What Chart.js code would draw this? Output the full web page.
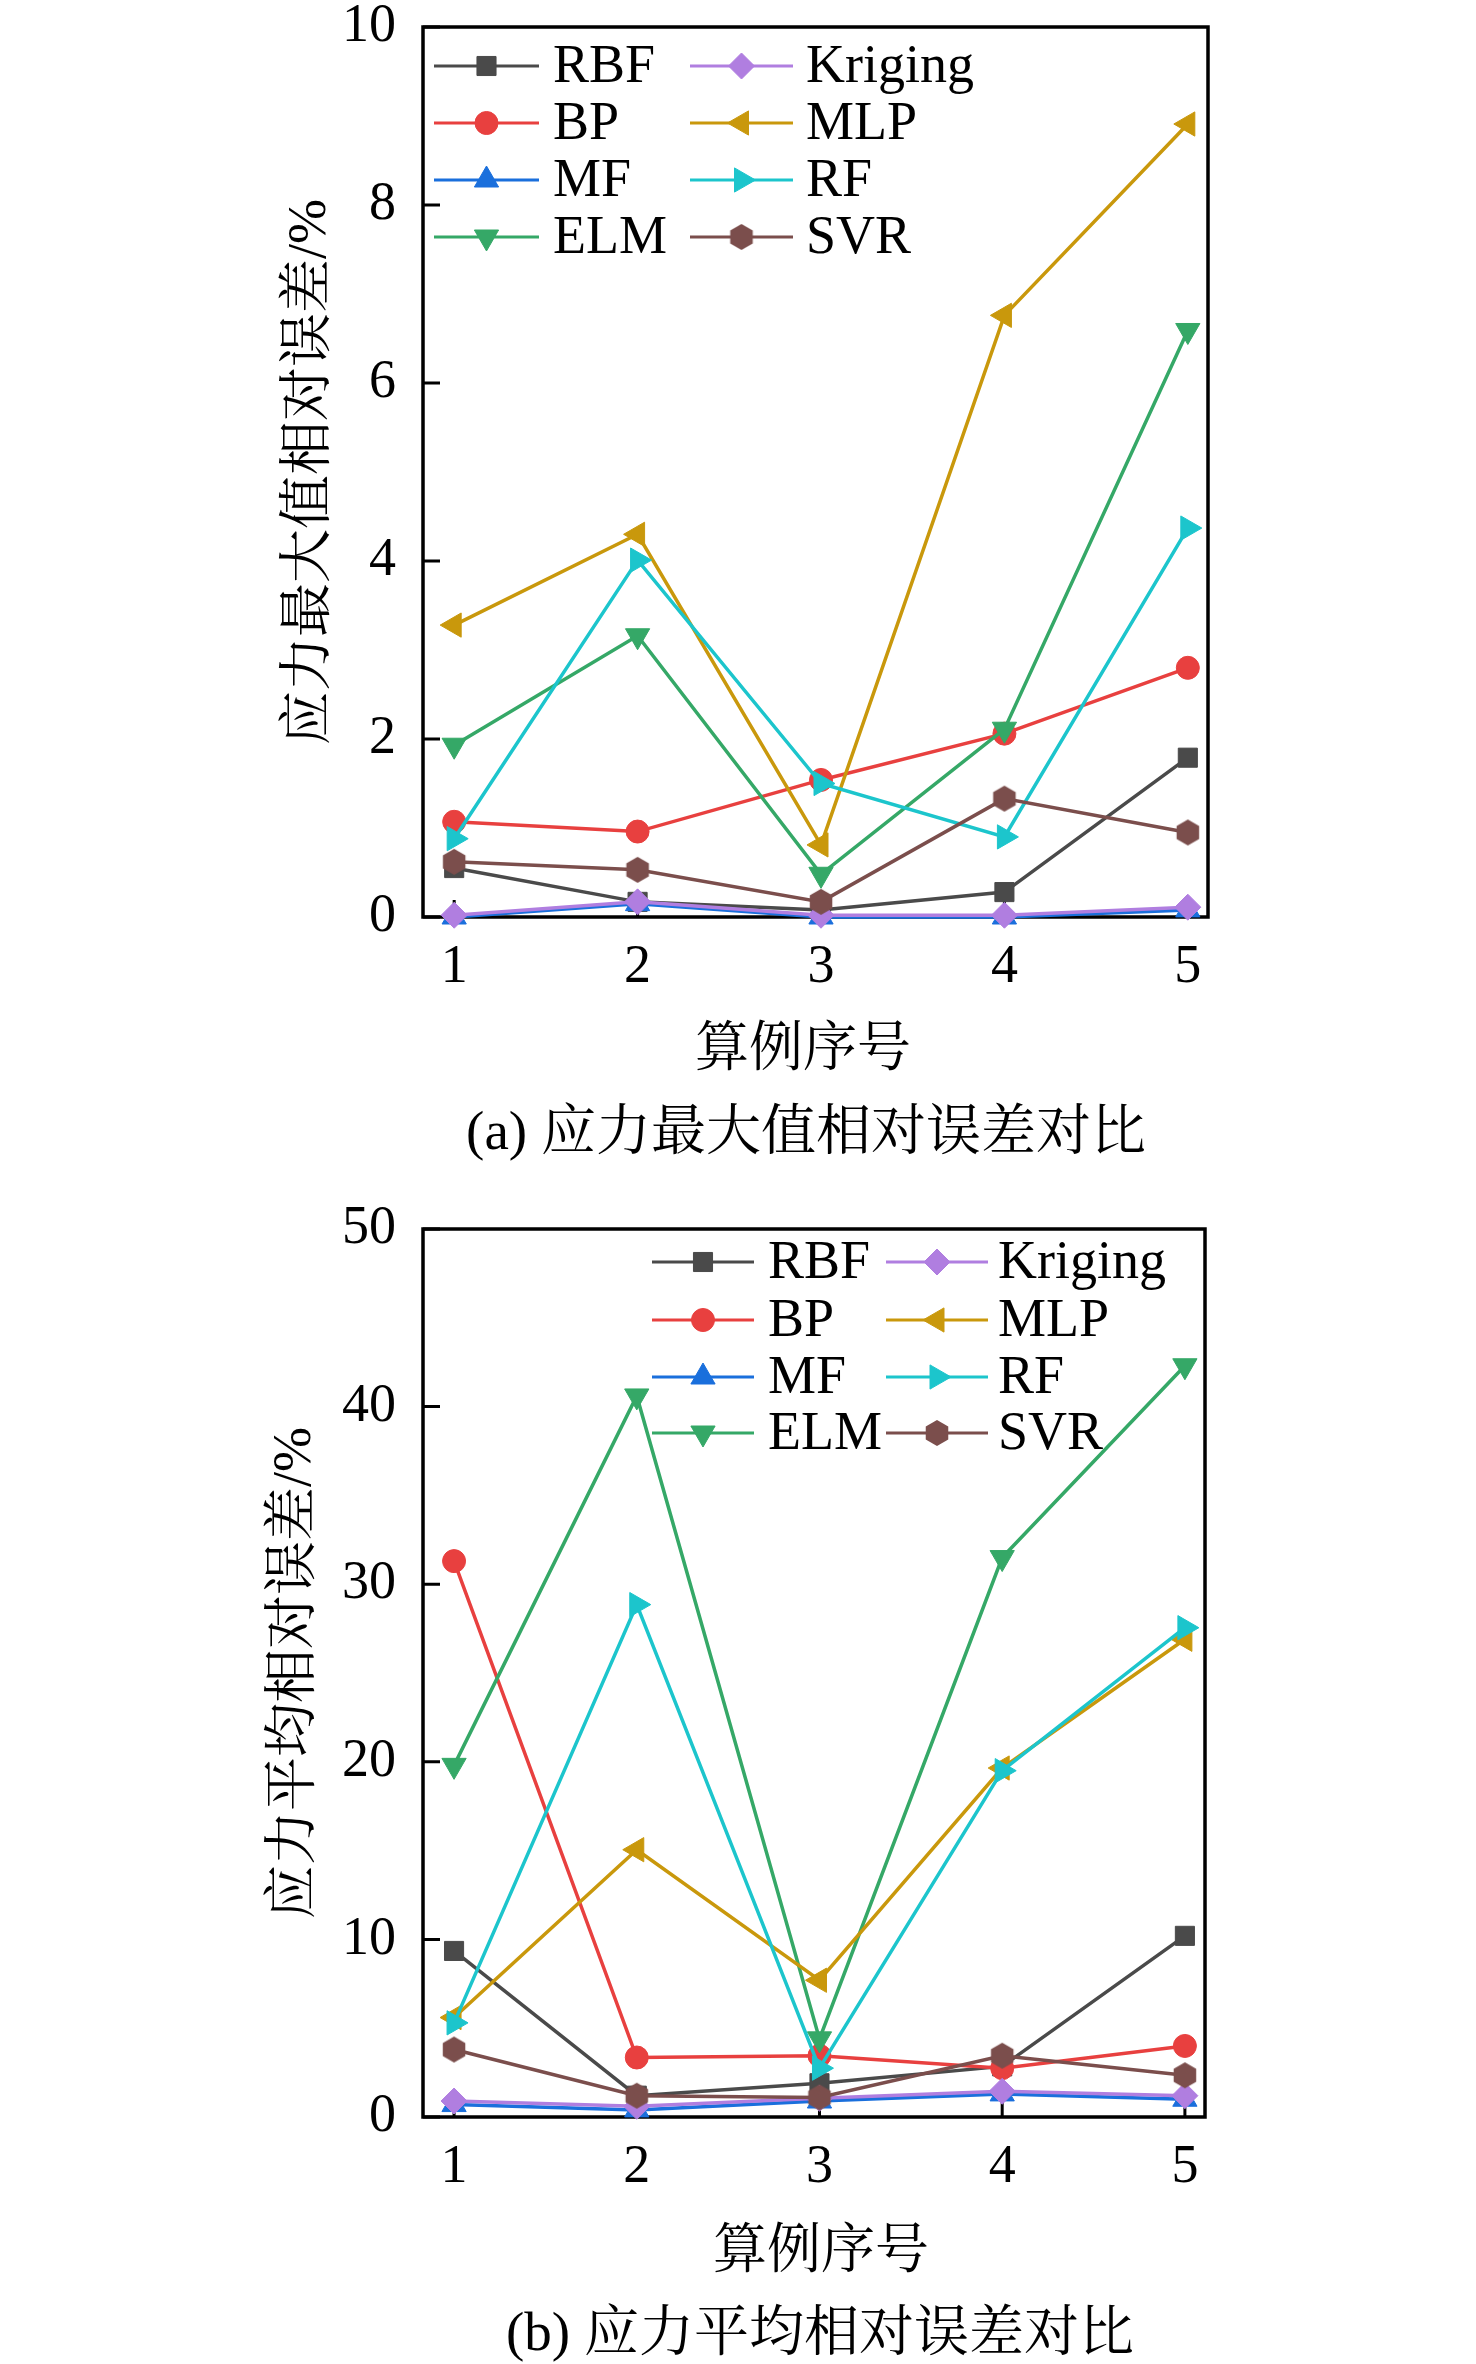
<!DOCTYPE html>
<html lang="zh">
<head>
<meta charset="UTF-8">
<title>应力相对误差对比</title>
<script src="https://cdn.jsdelivr.net/npm/chart.js@4.4.1/dist/chart.umd.min.js"></script>
<style>
  html, body { margin: 0; padding: 0; background: #fff; }
  body {
    width: 1476px; height: 2364px; position: relative; overflow: hidden;
    font-family: 'Liberation Serif', 'Noto Serif CJK SC', 'Noto Sans CJK SC', serif;
    color: #000;
  }
  .panel { position: absolute; left: 0; width: 1476px; }
  .label {
    position: absolute; width: 1000px; text-align: center;
    font-size: 54px; line-height: 64px; white-space: nowrap;
  }
  .caption { font-size: 55px; }
</style>
</head>
<body>

<div class="panel" style="top:0; height:1090px;"><canvas id="chartMax"></canvas></div>
<div class="label" style="left:303px; top:1016px;">算例序号</div>
<div class="label caption" style="left:306px; top:1099px;">(a) 应力最大值相对误差对比</div>

<div class="panel" style="top:1190px; height:1110px;"><canvas id="chartMean"></canvas></div>
<div class="label" style="left:321px; top:2218px;">算例序号</div>
<div class="label caption" style="left:320px; top:2300px;">(b) 应力平均相对误差对比</div>

<script>
// 算例序号
const cases = [1, 2, 3, 4, 5];
const methods = ['RBF', 'BP', 'MF', 'ELM', 'Kriging', 'MLP', 'RF', 'SVR'];

// (a) 应力最大值相对误差 /%
const maxRBF     = [0.55, 0.17, 0.08, 0.28, 1.79];
const maxBP      = [1.07, 0.96, 1.54, 2.06, 2.80];
const maxMF      = [0.00, 0.15, 0.00, 0.00, 0.08];
const maxELM     = [1.93, 3.16, 0.48, 2.11, 6.59];
const maxKriging = [0.02, 0.17, 0.02, 0.02, 0.11];
const maxMLP     = [3.28, 4.30, 0.81, 6.76, 8.91];
const maxRF      = [0.88, 4.01, 1.50, 0.90, 4.37];
const maxSVR     = [0.62, 0.53, 0.17, 1.33, 0.95];

// (b) 应力平均相对误差 /%
const meanRBF     = [9.35, 1.20, 1.90, 2.85, 10.2];
const meanBP      = [31.3, 3.35, 3.45, 2.75, 4.00];
const meanMF      = [0.70, 0.40, 0.90, 1.30, 1.00];
const meanELM     = [19.8, 40.6, 4.40, 31.5, 42.3];
const meanKriging = [0.90, 0.60, 1.05, 1.45, 1.20];
const meanMLP     = [5.60, 15.05, 7.70, 19.65, 26.9];
const meanRF      = [5.30, 28.85, 2.75, 19.5, 27.55];
const meanSVR     = [3.80, 1.20, 1.10, 3.45, 2.35];

const maxTicks = [0, 2, 4, 6, 8, 10];
const meanTicks = [0, 10, 20, 30, 40, 50];

// 样式
const colors = {
  RBF: '#4a4a4a', BP: '#e8403f', MF: '#1a6fdc', ELM: '#35a867',
  Kriging: '#b07ee0', MLP: '#c9980c', RF: '#1cc5cc', SVR: '#7b4e4c'
};

function hexagon(r, color) {
  const c = document.createElement('canvas');
  c.width = c.height = 2 * r + 2;
  const g = c.getContext('2d');
  g.fillStyle = color;
  g.beginPath();
  for (let i = 0; i < 6; i++) {
    const a = Math.PI / 3 * i - Math.PI / 2;
    const px = r + 1 + r * Math.cos(a), py = r + 1 + r * Math.sin(a);
    i ? g.lineTo(px, py) : g.moveTo(px, py);
  }
  g.closePath();
  g.fill();
  return c;
}

const markers = {
  RBF:     { style: 'rect', radius: 13.5, rotation: 0 },
  BP:      { style: 'circle', radius: 11.5, rotation: 0 },
  MF:      { style: 'triangle', radius: 14, rotation: 0 },
  ELM:     { style: 'triangle', radius: 14, rotation: 180 },
  Kriging: { style: 'rectRot', radius: 13, rotation: 0 },
  MLP:     { style: 'triangle', radius: 14, rotation: -90 },
  RF:      { style: 'triangle', radius: 14, rotation: 90 },
  SVR:     { style: hexagon(13, colors.SVR), radius: 13, rotation: 0 }
};

const legendOrder = ['RBF', 'Kriging', 'BP', 'MLP', 'MF', 'RF', 'ELM', 'SVR'];

function drawMarker(ctx, m, color, x, y) {
  ctx.save();
  ctx.fillStyle = color;
  ctx.strokeStyle = color;
  ctx.lineWidth = 1;
  const r = m.radius;
  if (typeof m.style !== 'string') {
    ctx.drawImage(m.style, x - m.style.width / 2, y - m.style.height / 2);
    ctx.restore();
    return;
  }
  ctx.beginPath();
  if (m.style === 'circle') {
    ctx.arc(x, y, r, 0, Math.PI * 2);
  } else if (m.style === 'rect') {
    const s = r / Math.SQRT2;
    ctx.rect(x - s, y - s, 2 * s, 2 * s);
  } else if (m.style === 'rectRot') {
    ctx.moveTo(x, y - r); ctx.lineTo(x + r, y); ctx.lineTo(x, y + r); ctx.lineTo(x - r, y);
  } else if (m.style === 'triangle') {
    let rad = m.rotation * Math.PI / 180;
    for (let i = 0; i < 3; i++) {
      const px = x + Math.sin(rad) * r, py = y - Math.cos(rad) * r;
      i ? ctx.lineTo(px, py) : ctx.moveTo(px, py);
      rad += Math.PI * 2 / 3;
    }
  }
  ctx.closePath();
  ctx.fill();
  ctx.stroke();
  ctx.restore();
}

// 边框、内向刻度和图例
const framePlugin = {
  id: 'frame',
  beforeDatasetsDraw(chart) {
    const { ctx, chartArea: a, scales: { x, y } } = chart;
    ctx.save();
    ctx.strokeStyle = '#000';
    ctx.lineWidth = 3;
    ctx.beginPath();
    x.ticks.forEach(t => {
      const px = x.getPixelForValue(t.value);
      ctx.moveTo(px, a.bottom); ctx.lineTo(px, a.bottom - 17);
    });
    y.ticks.forEach(t => {
      const py = y.getPixelForValue(t.value);
      ctx.moveTo(a.left, py); ctx.lineTo(a.left + 17, py);
    });
    ctx.stroke();
    ctx.lineWidth = 3.5;
    ctx.strokeRect(a.left, a.top, a.right - a.left, a.bottom - a.top);
    ctx.restore();
  },
  afterDraw(chart, args, opts) {
    const L = opts.legend;
    if (!L) return;
    const ctx = chart.ctx;
    ctx.save();
    ctx.font = '54px ' + Chart.defaults.font.family;
    ctx.textBaseline = 'middle';
    ctx.textAlign = 'left';
    legendOrder.forEach((name, i) => {
      const col = L.cols[i % 2];
      const y = L.rows[Math.floor(i / 2)];
      ctx.strokeStyle = colors[name];
      ctx.lineWidth = 3;
      ctx.beginPath();
      ctx.moveTo(col.x0, y); ctx.lineTo(col.x1, y);
      ctx.stroke();
      drawMarker(ctx, markers[name], colors[name], (col.x0 + col.x1) / 2, y);
      ctx.fillStyle = '#000';
      ctx.fillText(name, col.text, y + 2);
    });
    ctx.restore();
  }
};

Chart.defaults.font.family = "'Liberation Serif', 'Noto Serif CJK SC', 'Noto Sans CJK SC', serif";
Chart.defaults.font.size = 54;
Chart.defaults.color = '#000';

function makeDatasets(series) {
  return methods.map((name, i) => ({
    label: name,
    data: cases.map((c, j) => ({ x: c, y: series[name][j] })),
    borderColor: colors[name],
    backgroundColor: colors[name],
    borderWidth: 3.5,
    pointStyle: markers[name].style,
    pointRadius: markers[name].radius,
    pointRotation: markers[name].rotation,
    pointBackgroundColor: colors[name],
    pointBorderColor: colors[name],
    pointBorderWidth: 1,
    tension: 0,
    clip: false,
    order: methods.length - i
  }));
}

function makeChart(id, series, yMax, yStep, yTicks, yTitle, lay, legend) {
  new Chart(document.getElementById(id), {
    type: 'line',
    data: { datasets: makeDatasets(series) },
    options: {
      responsive: true,
      maintainAspectRatio: false,
      animation: false,
      events: [],
      layout: { padding: lay.padding },
      plugins: {
        legend: { display: false },
        tooltip: { enabled: false },
        frame: { legend: legend }
      },
      scales: {
        x: {
          type: 'linear',
          min: 0.83, max: 5.11,
          grid: { display: false, drawTicks: false },
          border: { display: false },
          ticks: { padding: 18, font: { size: 54 } },
          afterBuildTicks: s => { s.ticks = cases.map(v => ({ value: v })); },
          afterFit: s => {
            s.height = lay.xHeight;
            s.paddingLeft = s.paddingRight = 0;
          }
        },
        y: {
          min: 0, max: yMax,
          grid: { display: false, drawTicks: false },
          border: { display: false },
          ticks: { padding: 27, stepSize: yStep, font: { size: 54 } },
          afterBuildTicks: s => { s.ticks = yTicks.map(v => ({ value: v })); },
          afterFit: s => {
            s.width = lay.yWidth;
            s.paddingTop = s.paddingBottom = 0;
          },
          title: { display: true, text: yTitle, font: { size: 54 }, padding: 0 }
        }
      }
    },
    plugins: [framePlugin]
  });
}

makeChart('chartMax',
  { RBF: maxRBF, BP: maxBP, MF: maxMF, ELM: maxELM, Kriging: maxKriging, MLP: maxMLP, RF: maxRF, SVR: maxSVR },
  10, 2, maxTicks, '应力最大值相对误差/%',
  { padding: { left: 278, right: 268, top: 27, bottom: 3 }, yWidth: 145, xHeight: 170 },
  { cols: [{ x0: 434, x1: 539, text: 553 }, { x0: 690, x1: 793, text: 806 }], rows: [66, 123, 180, 237] }
);

makeChart('chartMean',
  { RBF: meanRBF, BP: meanBP, MF: meanMF, ELM: meanELM, Kriging: meanKriging, MLP: meanMLP, RF: meanRF, SVR: meanSVR },
  50, 10, meanTicks, '应力平均相对误差/%',
  { padding: { left: 263, right: 271, top: 39, bottom: 10 }, yWidth: 160, xHeight: 173 },
  { cols: [{ x0: 652, x1: 754, text: 768 }, { x0: 886, x1: 988, text: 998 }], rows: [72, 130, 187, 243] }
);
</script>
</body>
</html>
